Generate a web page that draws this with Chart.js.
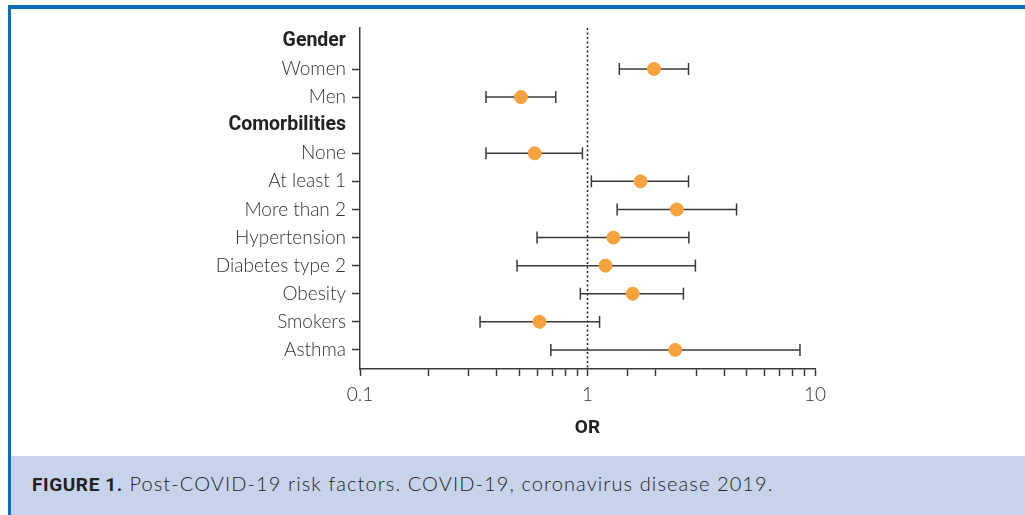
<!DOCTYPE html>
<html>
<head>
<meta charset="utf-8">
<script src="https://cdn.jsdelivr.net/npm/chart.js@4"></script>
<style>
  body { margin: 0; background: #fff; }
  #frame {
    position: absolute; left: 8px; top: 5px; width: 1014px; height: 510px;
    border-top: 4px solid #0b6cb8; border-left: 3px solid #0b6cb8;
  }
  #chartBox { position: relative; width: 1014px; height: 447px; }
  #caption {
    height: 59px; background: #c7d3ea; box-sizing: border-box;
    padding: 15px 0 0 21px; font: 300 20px Lato, sans-serif; letter-spacing: 1.1px;
    color: #222; white-space: nowrap;
  }
  #caption b { font: 700 19px Roboto, sans-serif; letter-spacing: 0.6px; }
</style>
</head>
<body>
<div id="frame">
  <div id="chartBox"><canvas id="forest-chart"></canvas></div>
  <div id="caption"><b>FIGURE 1.</b> Post-COVID-19 risk factors. COVID-19, coronavirus disease 2019.</div>
</div>
<script>
const rowLabels = ['Gender', 'Women', 'Men', 'Comorbilities', 'None', 'At least 1', 'More than 2',
  'Hypertension', 'Diabetes type 2', 'Obesity', 'Smokers', 'Asthma'];
const headerRows = ['Gender', 'Comorbilities'];
const oddsRatio = [null, 1.96, 0.51, null, 0.586, 1.71, 2.47, 1.30, 1.20, 1.58, 0.615, 2.43];
const ciLow = [null, 1.38, 0.358, null, 0.358, 1.04, 1.35, 0.60, 0.49, 0.93, 0.337, 0.69];
const ciHigh = [null, 2.78, 0.725, null, 0.95, 2.78, 4.52, 2.79, 2.98, 2.64, 1.13, 8.59];
const xTickLabels = ['0.1', '1', '10'];
const refValue = 1;

const forestChart = document.getElementById('forest-chart');

const isHeader = ctx => ctx.tick && headerRows.includes(rowLabels[ctx.tick.value]);

const ciSets = [];
rowLabels.forEach((lab, i) => {
  if (oddsRatio[i] === null) return;
  ciSets.push({
    type: 'scatter',
    showLine: true,
    data: [{x: ciLow[i], y: i}, {x: ciHigh[i], y: i}],
    borderColor: '#3a3a3a',
    borderWidth: 1.5,
    pointStyle: 'line',
    pointRotation: 90,
    pointRadius: 6,
    pointBorderWidth: 1.5,
    pointBorderColor: '#3a3a3a',
    order: 2
  });
});

const pointSet = {
  type: 'scatter',
  data: rowLabels.map((lab, i) => oddsRatio[i] === null ? null : {x: oddsRatio[i], y: i}).filter(p => p),
  backgroundColor: '#f6a23d',
  borderColor: '#f6a23d',
  pointRadius: 6.5,
  order: 0
};

const refSet = {
  type: 'scatter',
  showLine: true,
  data: [{x: refValue, y: -0.46}, {x: refValue, y: 11.68}],
  borderColor: '#222',
  borderWidth: 1.5,
  borderDash: [2, 2.5],
  pointRadius: 0,
  order: 3
};

new Chart(forestChart, {
  type: 'scatter',
  data: { datasets: [pointSet, ...ciSets, refSet] },
  options: {
    responsive: true,
    maintainAspectRatio: false,
    animation: false,
    layout: { padding: { top: 19, right: 210, left: 0, bottom: 0 } },
    plugins: { legend: { display: false }, tooltip: { enabled: false } },
    scales: {
      x: {
        type: 'logarithmic',
        min: 0.1,
        max: 10,
        afterFit: s => { s.height = 87; },
        border: { color: '#3a3a3a', width: 1.5 },
        grid: { drawOnChartArea: false, tickLength: 7, tickColor: '#3a3a3a', tickWidth: 1.5 },
        ticks: {
          autoSkip: false,
          maxRotation: 0,
          padding: 7,
          color: '#333',
          font: { family: 'Lato', weight: '300', size: 19 },
          callback: v => {
            const s = String(Number(v.toPrecision(3)));
            return xTickLabels.includes(s) ? s : '';
          }
        },
        title: {
          display: true,
          text: 'OR',
          color: '#222',
          font: { family: 'Roboto', weight: '700', size: 19 },
          padding: { top: 0, bottom: 16 }
        }
      },
      y: {
        type: 'linear',
        reverse: true,
        min: -0.46,
        max: 11.68,
        afterFit: s => { s.width = 349; },
        afterBuildTicks: s => { s.ticks = rowLabels.map((l, i) => ({ value: i })); },
        border: { color: '#3a3a3a', width: 1.5 },
        grid: {
          drawOnChartArea: false,
          tickLength: 8,
          tickWidth: 1.5,
          tickColor: ctx => isHeader(ctx) ? 'rgba(0,0,0,0)' : '#3a3a3a'
        },
        ticks: {
          autoSkip: false,
          padding: 6,
          color: ctx => isHeader(ctx) ? '#222' : '#333',
          font: ctx => isHeader(ctx)
            ? { family: 'Roboto', weight: '700', size: 19.5 }
            : { family: 'Lato', weight: '300', size: 19 },
          callback: v => rowLabels[v]
        }
      }
    }
  }
});
</script>
</body>
</html>
